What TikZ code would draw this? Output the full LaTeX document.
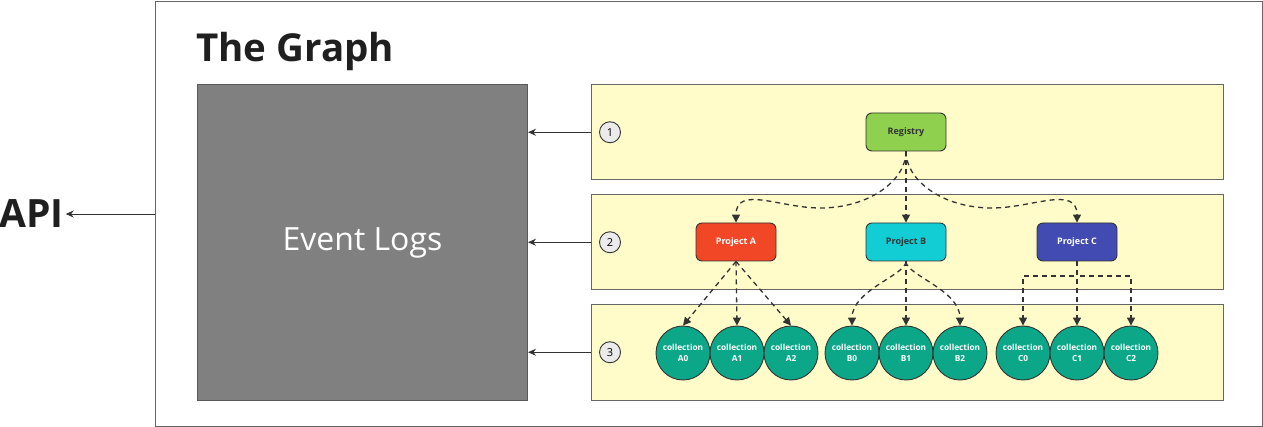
\documentclass[tikz,border=0pt]{standalone}
\usepackage{fontspec}
\setmainfont{Open Sans}
\usetikzlibrary{arrows.meta}
\definecolor{layerfill}{HTML}{FFFCC9}
\definecolor{logfill}{HTML}{808080}
\definecolor{regfill}{HTML}{8FD14F}
\definecolor{pafill}{HTML}{F24726}
\definecolor{pbfill}{HTML}{12CDD4}
\definecolor{pcfill}{HTML}{414BB2}
\definecolor{collfill}{HTML}{0CA789}
\definecolor{ink}{HTML}{333333}
\begin{document}
\begin{tikzpicture}[x=1pt, y=-1pt,
    layer/.style={draw=black!60, fill=layerfill, line width=1pt, minimum width=632pt, minimum height=95.5pt},
    proj/.style={draw=ink, rounded corners=6pt, line width=0.9pt, minimum width=80pt, minimum height=38pt,
        font=\fontsize{9}{10}\selectfont\bfseries},
    coll/.style={circle, draw=ink, fill=collfill, line width=0.9pt, minimum size=54pt, inner sep=0pt,
        align=center, text=white, font=\fontsize{8.3}{11}\selectfont\bfseries},
    num/.style={circle, draw=ink, fill=black!8, line width=0.9pt, minimum size=21pt, inner sep=0pt,
        font=\fontsize{11}{11}\selectfont},
    link/.style={draw=ink, line width=1.3pt, dash pattern=on 5pt off 4pt, -{Triangle[length=8pt,width=8pt]}},
    feed/.style={draw=ink, line width=1pt, -{Stealth[length=8pt,width=7pt]}}
]
    \useasboundingbox (0,0) rectangle (1263,427);
    \node[draw=black!60, line width=1.2pt, minimum width=1107pt, minimum height=425pt, anchor=north west] (graph) at (154.5,0.6) {};
    \node[anchor=base west, inner sep=0pt, font=\fontsize{38.5}{40}\selectfont\bfseries, text=black!88] (title) at (196,62) {The Graph};
    \node[anchor=base west, inner sep=2pt, font=\fontsize{39}{39}\selectfont\bfseries, text=black!88] (api) at (-3,228) {API};
    \draw[feed] (graph.west |- api.east) -- (api.east);

    \node[draw=black!65, fill=logfill, line width=1pt, minimum width=330pt, minimum height=316pt, anchor=north west,
        text=white, font=\fontsize{32}{32}\selectfont] (logs) at (197,84) {Event Logs};

    \foreach \i/\y in {1/84, 2/194, 3/304} {
        \node[layer, anchor=north west] (layer\i) at (591,\y) {};
        \node[num] (num\i) at ([xshift=19pt]layer\i.west) {\i};
        \draw[feed] (layer\i.west) -- (logs.east |- layer\i.west);
    }

    \node[proj, fill=regfill, text=ink] (reg) at (906,132) {Registry};
    \node[proj, fill=pafill, text=white] (pa) at (736,242) {Project A};
    \node[proj, fill=pbfill, text=ink] (pb) at (906,242) {Project B};
    \node[proj, fill=pcfill, text=white] (pc) at (1077,242) {Project C};

    \foreach \n/\x in {A0/683, A1/737, A2/791, B0/852, B1/906, B2/960, C0/1023, C1/1077, C2/1131}
        \node[coll] (c\n) at (\x,353) {collection\\\n};

    % registry to projects
    \draw[link] (reg.south) .. controls (906,180) and (870,208) .. (820,208)
        .. controls (780,208) and (736,185) .. (pa.north);
    \draw[link] (reg.south) -- (pb.north);
    \draw[link] (reg.south) .. controls (906,180) and (942,208) .. (992,208)
        .. controls (1032,208) and (1077,185) .. (pc.north);

    % projects to collections
    \foreach \n in {A0, A1, A2}
        \draw[link] (pa.south) -- (c\n.north);
    \draw[link] (pb.south) .. controls (906,275) and (852,290) .. (cB0.north);
    \draw[link] (pb.south) -- (cB1.north);
    \draw[link] (pb.south) .. controls (906,275) and (960,290) .. (cB2.north);
    \coordinate (cfork) at (1077,276);
    \draw[link] (pc.south) -- (cfork) -| (cC0.north);
    \draw[link] (pc.south) -- (cfork) -| (cC2.north);
    \draw[link] (pc.south) -- (cC1.north);
\end{tikzpicture}
\end{document}
